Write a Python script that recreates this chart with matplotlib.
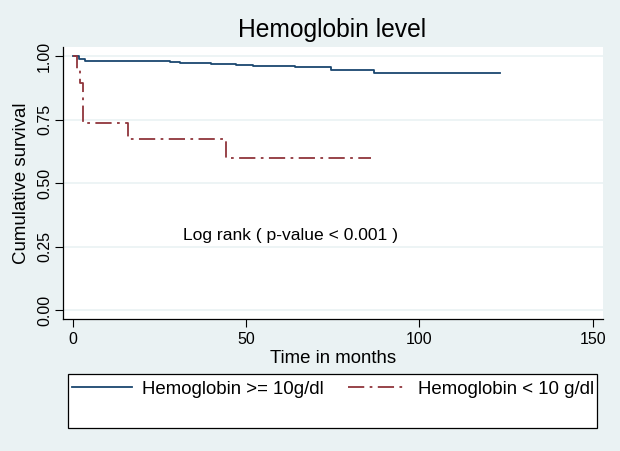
import numpy as np
import matplotlib
matplotlib.use("Agg")
import matplotlib.pyplot as plt
from matplotlib.patches import Rectangle

plt.rcParams['font.family'] = ['Liberation Sans', 'DejaVu Sans']

# KM step points: (time in months, cumulative survival)
hb_high_t = [0, 1.8, 3.6, 28, 31, 40, 47, 52, 64, 74.5, 87, 123.3]
hb_high_s = [1.0, 0.987, 0.980, 0.976, 0.971, 0.968, 0.964, 0.962, 0.956, 0.946, 0.934, 0.934]
hb_low_t = [0, 1.2, 2.2, 3.1, 16, 44.1, 86]
hb_low_s = [1.0, 0.947, 0.895, 0.737, 0.674, 0.597, 0.597]

x_ticks = [0, 50, 100, 150]
y_ticks = [0.0, 0.25, 0.5, 0.75, 1.0]
y_ticklabels = ["0.00", "0.25", "0.50", "0.75", "1.00"]

bg = "#EAF2F3"
navy = "#1A476F"
maroon = "#90353B"

fig = plt.figure(figsize=(6.2, 4.51), dpi=100)
fig.patch.set_facecolor(bg)
ax = fig.add_axes([63/620, 1-319/451, (602.7-63)/620, (319-46.7)/451])
ax.set_facecolor("white")

for y in y_ticks:
    ax.axhline(y, color=bg, lw=1.2, zorder=0)

ax.step(hb_high_t, hb_high_s, where="post", color=navy, lw=1.3,
        label="Hemoglobin >= 10g/dl")
ax.step(hb_low_t, hb_low_s, where="post", color=maroon, lw=1.3,
        dashes=(9, 3, 1.5, 3), label="Hemoglobin < 10 g/dl")

ax.set_xlim(-2.8, 152.9)
ax.set_ylim(-0.035, 1.037)
ax.set_xticks(x_ticks)
ax.set_yticks(y_ticks)
ax.set_yticklabels(y_ticklabels, rotation=90, va="center")
ax.tick_params(axis="both", labelsize=11.5, length=6, width=0.8, direction="out")
ax.tick_params(axis="y", pad=2)
for s in ["top", "right"]:
    ax.spines[s].set_visible(False)
for s in ["left", "bottom"]:
    ax.spines[s].set_linewidth(0.9)

ax.set_xlabel("Time in months", fontsize=13.4, labelpad=2)
ax.set_ylabel("Cumulative survival", fontsize=13.4, labelpad=5)
fig.text(332/620, 1-30/451, "Hemoglobin level", fontsize=17.7, ha="center", va="center")
ax.text(62.8, 0.295, "Log rank ( p-value < 0.001 )", fontsize=12.6, ha="center", va="center")

# legend box
fig.patches.append(Rectangle((68/620, 1-428/451), (597-68)/620, (428-374)/451,
                             transform=fig.transFigure, facecolor="white",
                             edgecolor="black", lw=0.9))
h, l = ax.get_legend_handles_labels()
fig.legend(h, l, ncol=2, frameon=False, fontsize=13.4, loc="center left",
           bbox_to_anchor=(72/620, 1-389/451), handlelength=3.2,
           handletextpad=0.55, columnspacing=1.3, borderaxespad=0, borderpad=0)

fig.savefig("out.png", dpi=100, facecolor=bg)
